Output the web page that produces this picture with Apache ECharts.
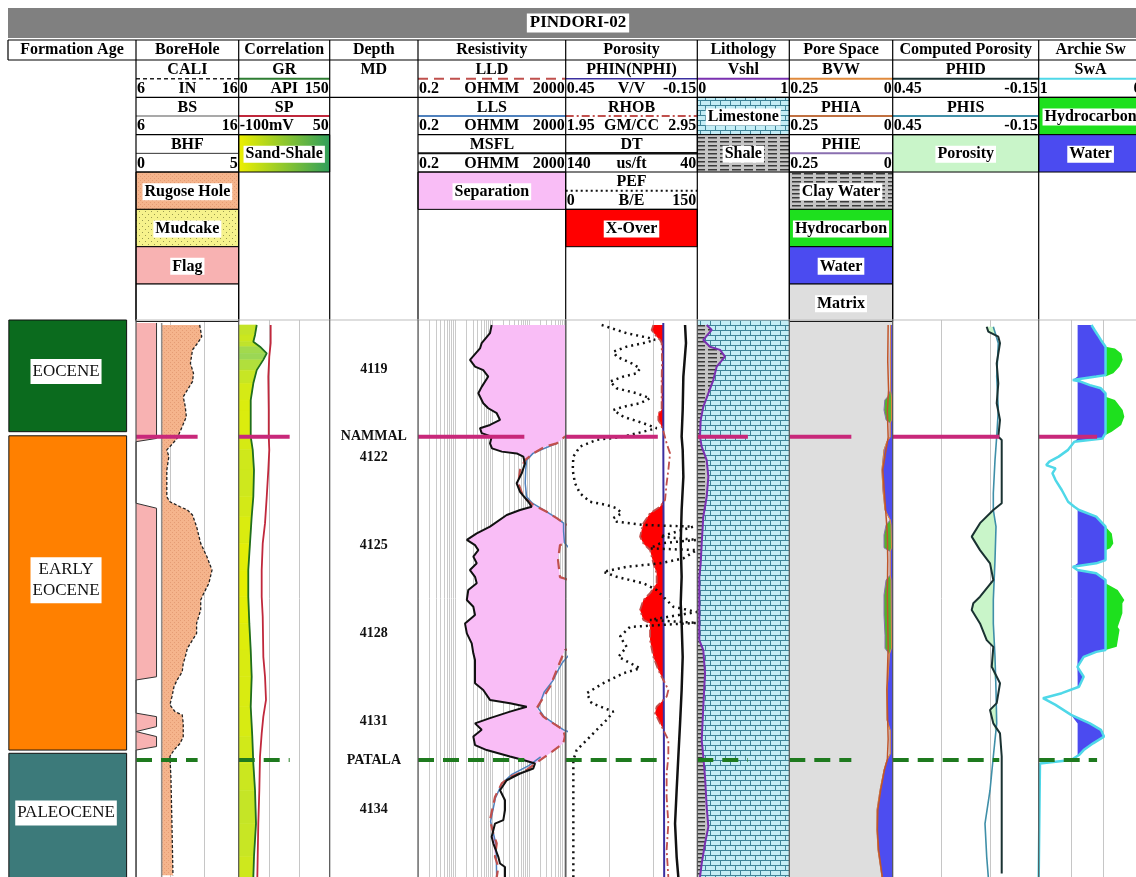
<!DOCTYPE html>
<html>
<head>
<meta charset="utf-8">
<title>PINDORI-02</title>
<script src="https://cdn.jsdelivr.net/npm/echarts@6.0.0/dist/echarts.min.js"></script>
<style>
  html, body { margin: 0; padding: 0; background: #fff; }
  #chart { width: 1136px; height: 877px; }
</style>
</head>
<body>
<div id="chart"></div>
<script>
// ---------- data ----------
const WELL = 'PINDORI-02'
const DEPTH_TOP = 4117.3
const DEPTH_BASE = 4136.3

const DEPTH_TICKS = [4119, 4122, 4125, 4128, 4131, 4134]
const MARKER_NAMES = ['NAMMAL', 'PATALA']
const MARKER_DEPTHS = [4121.28, 4132.31]

const AGE_NAMES = ['EOCENE', 'EARLY\nEOCENE', 'PALEOCENE']
const AGE_TOPS = [4117.3, 4121.25, 4132.08]
const AGE_BASES = [4121.11, 4131.97, 4136.5]

// resistivity log grid values (ohmm)
const RES_GRID = [0.2, 0.4, 0.6, 0.8, 1, 1.2, 1.4, 1.6, 1.8, 2, 4, 6, 8, 10, 12, 14, 16, 18, 20,
  40, 60, 80, 100, 120, 140, 160, 180, 200, 400, 600, 800, 1000, 1200, 1400, 1600, 1800, 2000]

// curves, [depth ft, value]
const CALI = [[4117.47, 12.2], [4117.87, 12.4], [4118.09, 12.0], [4118.32, 11.5], [4118.78, 11.3], [4119.12, 11.6],
  [4119.40, 11.5], [4119.63, 11.1], [4119.92, 10.6], [4120.26, 10.8], [4120.60, 10.9], [4120.94, 10.5], [4121.34, 10.0],
  [4121.62, 9.3], [4121.73, 9.0], [4121.96, 9.2], [4122.42, 9.0], [4123.33, 9.0], [4123.50, 9.3], [4123.67, 10.3],
  [4123.78, 11.0], [4123.95, 11.5], [4124.35, 11.9], [4124.92, 12.3], [4125.37, 12.9], [4125.83, 13.4], [4126.28, 13.1],
  [4126.62, 12.6], [4126.85, 12.3], [4127.19, 12.3], [4127.65, 11.9], [4127.99, 11.9], [4128.33, 11.3], [4128.50, 11.0],
  [4128.79, 10.8], [4129.01, 10.6], [4129.30, 10.5], [4129.58, 10.0], [4129.81, 9.7], [4130.15, 9.5], [4130.43, 9.3],
  [4130.66, 9.8], [4130.77, 10.5], [4131.06, 10.6], [4131.51, 10.6], [4131.74, 10.3], [4131.97, 9.7], [4132.19, 9.3],
  [4132.89, 9.4], [4134.48, 9.5], [4136.24, 9.6]]
const BS = [[4117.4, 8.5], [4136.3, 8.5]]
const BHF = [[4117.4, 1], [4121.34, 1], [4121.45, 0], [4123.55, 0], [4123.72, 1], [4129.47, 1], [4129.58, 0],
  [4130.71, 0], [4130.83, 1], [4131.17, 1], [4131.34, 0], [4131.51, 1], [4131.85, 1], [4131.97, 0], [4136.3, 0]]

const GR = [[4117.47, 29.7], [4117.81, 26.9], [4118.04, 24.1], [4118.21, 35.1], [4118.44, 46.2], [4118.66, 40.5],
  [4119.01, 29.7], [4119.46, 24.1], [4120.03, 19.8], [4120.37, 19.8], [4121.28, 19.8], [4121.73, 23.1], [4122.42, 25.2],
  [4123.33, 24.1], [4124.01, 21.4], [4124.92, 18.6], [4125.83, 15.8], [4126.74, 15.8], [4127.65, 17.5], [4128.56, 19.8],
  [4129.47, 21.4], [4130.49, 19.8], [4131.51, 22.4], [4132.43, 24.1], [4133.34, 26.9], [4134.48, 28.5], [4135.61, 25.2],
  [4136.31, 24.1]]
const SP = [[4117.47, -47.3], [4118.09, -47.3], [4118.55, -49.6], [4119.23, -51.2], [4120.37, -50.5], [4121.28, -50.5],
  [4121.73, -49.6], [4122.42, -51.2], [4123.33, -53.8], [4124.23, -56.6], [4124.92, -60.4], [4125.83, -62.1],
  [4126.74, -62.1], [4127.42, -60.4], [4128.79, -59.4], [4129.47, -56.6], [4130.26, -55.0], [4130.83, -59.4],
  [4131.40, -62.1], [4132.19, -64.9], [4133.34, -66.0], [4134.48, -67.7], [4136.31, -69.3]]

const MSFL = [[4117.47, 19.8], [4117.75, 17.8], [4118.09, 10.6], [4118.27, 9.55], [4118.66, 5.12], [4118.89, 7.0],
  [4119.01, 11.7], [4119.23, 16.0], [4119.58, 10.6], [4119.80, 8.6], [4120.14, 11.7], [4120.31, 16.0], [4120.48, 27.1],
  [4120.71, 33.3], [4120.88, 17.8], [4120.99, 9.55], [4121.16, 10.6], [4121.28, 19.8], [4121.51, 17.8], [4121.68, 20.2],
  [4121.79, 37.2], [4121.85, 94.2], [4121.96, 142], [4122.19, 158], [4122.53, 129], [4122.87, 94], [4123.16, 116],
  [4123.50, 194], [4123.67, 240], [4123.78, 116], [4123.95, 50.5], [4124.35, 17.8], [4124.58, 7.8], [4124.80, 4.2],
  [4124.98, 7.0], [4125.15, 8.6], [4125.37, 6.3], [4125.60, 7.8], [4125.83, 5.1], [4126.06, 7.0], [4126.28, 7.8],
  [4126.51, 4.6], [4126.85, 4.2], [4127.08, 6.3], [4127.36, 7.0], [4127.65, 3.75], [4127.99, 4.2], [4128.33, 5.7],
  [4128.67, 6.3], [4128.90, 7.0], [4129.69, 7.0], [4129.92, 11.7], [4130.26, 17.8], [4130.37, 62], [4130.49, 176],
  [4130.66, 62], [4130.88, 17.8], [4131.06, 7.0], [4131.28, 10.6], [4131.51, 6.3], [4131.80, 7.0], [4131.97, 14.5],
  [4132.19, 62], [4132.31, 142], [4132.43, 295], [4132.60, 265], [4132.77, 116], [4133.00, 50.5], [4133.34, 33.3],
  [4133.68, 45.4], [4134.02, 45.4], [4134.36, 40.8], [4134.48, 24.3], [4134.93, 19.8], [4135.15, 21.9], [4135.61, 29.9],
  [4135.84, 33.3], [4135.96, 45.4], [4136.31, 45.4]]
const LLD = [[4117.4, 3000], [4121.2, 3000], [4121.28, 1900], [4121.51, 1140], [4121.62, 550], [4121.85, 265],
  [4122.08, 158], [4122.42, 116], [4122.87, 104], [4123.33, 142], [4123.61, 265], [4123.84, 612], [4124.06, 1140],
  [4124.23, 1800], [4124.35, 3000], [4124.85, 3000], [4124.98, 1400], [4125.49, 1240], [4126.07, 1400], [4126.2, 3000],
  [4128.5, 3000], [4128.56, 1900], [4129.24, 1140], [4129.81, 752], [4130.54, 328], [4130.83, 494], [4131.06, 923],
  [4131.28, 1720], [4131.51, 1900], [4131.74, 1720], [4132.08, 752], [4132.36, 362], [4132.65, 176], [4132.89, 62],
  [4133.11, 37], [4133.57, 24.3], [4134.36, 17.8], [4134.81, 21.9], [4135.15, 27.1], [4135.61, 24.3], [4135.96, 29.9],
  [4136.31, 27.1]]
const LLS = [[4121.5, 1200], [4121.7, 480], [4121.85, 260], [4122.08, 175], [4122.42, 165], [4122.87, 160],
  [4123.33, 175], [4123.55, 250], [4123.84, 600], [4124.06, 1150], [4124.23, 1750], [4124.5, 1750], [4124.9, 1850],
  [4125.2, 3000], null, [4128.6, 3000], [4129.0, 1600], [4129.24, 1250], [4129.6, 900], [4130.0, 520], [4130.54, 360],
  [4130.83, 520], [4131.06, 950], [4131.28, 1750], [4131.4, 3000], null, [4132.2, 420], [4132.5, 200], [4132.8, 70],
  [4133.1, 38], [4133.6, 25], [4134.4, 18.5], [4135.2, 26], [4136.3, 27]]

const NPHI = [[4117.4, 0.005], [4121.3, 0.005], [4124.2, 0.004], [4127.0, 0.004], [4130.0, 0.003], [4132.3, 0.002],
  [4136.3, 0.001]]
const RHOB = [[4117.47, 2.616], [4117.64, 2.603], [4117.87, 2.641], [4117.98, 2.667], [4118.09, 2.679], [4118.66, 2.682],
  [4119.35, 2.679], [4120.37, 2.679], [4120.48, 2.654], [4120.71, 2.654], [4120.82, 2.667], [4121.05, 2.690],
  [4121.51, 2.717], [4121.85, 2.743], [4122.42, 2.730], [4122.87, 2.717], [4123.44, 2.705], [4123.67, 2.667],
  [4123.89, 2.591], [4124.23, 2.540], [4124.69, 2.515], [4124.92, 2.540], [4125.15, 2.591], [4125.60, 2.616],
  [4125.94, 2.641], [4126.28, 2.641], [4126.62, 2.591], [4126.85, 2.540], [4127.19, 2.515], [4127.53, 2.540],
  [4127.65, 2.591], [4128.22, 2.591], [4128.79, 2.616], [4129.24, 2.654], [4129.47, 2.679], [4129.69, 2.705],
  [4129.92, 2.730], [4130.15, 2.717], [4130.26, 2.692], [4130.49, 2.641], [4130.71, 2.629], [4130.94, 2.654],
  [4131.28, 2.692], [4131.63, 2.730], [4132.19, 2.730], [4132.77, 2.717], [4133.57, 2.717], [4134.48, 2.730],
  [4135.38, 2.717], [4136.31, 2.730]]
const DT = [[4117.47, 49.3], [4118.09, 48.6], [4119.23, 50.6], [4120.37, 51.1], [4121.28, 51.9], [4121.73, 51.1],
  [4122.65, 50.6], [4123.78, 51.9], [4124.92, 52.6], [4126.06, 51.9], [4126.96, 52.6], [4127.65, 51.9], [4128.79, 51.1],
  [4129.92, 51.9], [4131.06, 53.1], [4132.19, 54.4], [4133.34, 55.7], [4134.48, 56.9], [4135.61, 55.7], [4136.31, 54.4]]
const PEF = [[4117.47, 41.0], [4117.75, 69.5], [4117.92, 96.1], [4117.98, 101.8], [4118.09, 88.4], [4118.21, 69.5],
  [4118.38, 54.3], [4118.55, 58.1], [4118.78, 75.2], [4118.95, 84.7], [4119.12, 80.9], [4119.23, 65.7], [4119.40, 50.5],
  [4119.63, 58.1], [4119.80, 80.9], [4119.97, 96.1], [4120.14, 84.7], [4120.26, 65.7], [4120.37, 54.3], [4120.60, 65.7],
  [4120.82, 88.4], [4120.99, 103.7], [4121.11, 88.4], [4121.28, 65.7], [4121.39, 35.3], [4121.62, 16.3], [4121.96, 8.7],
  [4122.42, 8.0], [4122.87, 10.6], [4123.21, 16.3], [4123.50, 27.7], [4123.61, 46.7], [4123.72, 58.1], [4123.89, 63.8],
  [4124.06, 54.3], [4124.18, 58.1], [4124.29, 88.4], [4124.35, 145.4], [4124.69, 107.5], [4124.80, 149.3],
  [4124.92, 107.5], [4125.09, 96.1], [4125.15, 149.3], [4125.43, 134.0], [4125.60, 107.5], [4125.72, 69.5],
  [4125.89, 42.9], [4126.06, 58.1], [4126.28, 88.4], [4126.51, 103.7], [4126.74, 111.2], [4127.08, 122.6],
  [4127.26, 149.3], [4127.53, 96.1], [4127.63, 149.3], [4127.77, 73.3], [4128.10, 61.9], [4128.45, 69.5],
  [4128.79, 60.0], [4129.18, 84.7], [4129.35, 65.7], [4129.69, 42.9], [4130.03, 23.9], [4130.37, 29.6], [4130.66, 54.3],
  [4130.94, 46.7], [4131.28, 35.3], [4131.63, 23.9], [4131.97, 12.5], [4132.31, 8.7], [4136.31, 8.7]]

const VSHL = [[4117.47, 0.102], [4117.64, 0.157], [4117.98, 0.065], [4118.21, 0.138], [4118.32, 0.247], [4118.55, 0.301],
  [4118.89, 0.211], [4119.35, 0.174], [4119.80, 0.120], [4120.26, 0.065], [4120.71, 0.037], [4121.28, 0.029],
  [4121.62, 0.048], [4122.08, 0.102], [4122.65, 0.120], [4123.33, 0.102], [4124.01, 0.065], [4124.92, 0.048],
  [4125.60, 0.037], [4126.06, 0.022], [4128.22, 0.022], [4128.56, 0.065], [4129.35, 0.084], [4130.49, 0.065],
  [4131.63, 0.048], [4132.19, 0.065], [4132.89, 0.084], [4133.91, 0.102], [4134.59, 0.120], [4135.15, 0.084],
  [4135.84, 0.048], [4136.31, 0.029]]

const PHIE = [[4117.47, 0.005], [4118.66, 0.006], [4119.69, 0.005], [4119.92, 0.012], [4120.03, 0.019], [4120.37, 0.021],
  [4120.71, 0.016], [4120.82, 0.006], [4121.29, 0.006], [4121.45, 0.014], [4121.73, 0.021], [4122.42, 0.026],
  [4123.10, 0.0235], [4123.78, 0.0186], [4124.12, 0.006], [4124.29, 0.016], [4124.63, 0.021], [4125.07, 0.021],
  [4125.2, 0.006], [4126.0, 0.006], [4126.17, 0.016], [4126.68, 0.021], [4127.36, 0.021], [4128.05, 0.0186],
  [4128.50, 0.0186], [4128.7, 0.008], [4129.6, 0.012], [4129.92, 0.0138], [4130.94, 0.0138], [4131.3, 0.006],
  [4132.1, 0.006], [4132.31, 0.0138], [4132.65, 0.021], [4133.34, 0.0307], [4134.02, 0.038], [4134.70, 0.038],
  [4135.38, 0.0355], [4136.07, 0.0283], [4136.31, 0.0259]]
const BVW = [[4117.47, 0.005], [4119.69, 0.005], [4119.92, 0.003], [4120.71, 0.003], [4120.82, 0.006], [4121.29, 0.006],
  [4121.45, 0.014], [4121.73, 0.021], [4122.42, 0.026], [4123.10, 0.0235], [4123.78, 0.0186], [4124.12, 0.006],
  [4124.29, 0.004], [4125.07, 0.003], [4125.2, 0.006], [4126.0, 0.006], [4126.17, 0.004], [4128.50, 0.003],
  [4128.7, 0.008], [4129.6, 0.012], [4129.92, 0.0138], [4130.94, 0.0138], [4131.3, 0.006], [4132.1, 0.006],
  [4132.31, 0.0138], [4132.65, 0.021], [4133.34, 0.0307], [4134.02, 0.038], [4134.70, 0.038], [4135.38, 0.0355],
  [4136.07, 0.0283], [4136.31, 0.0259]]
const PHIA = [[4117.47, 0.011], [4118.7, 0.012], [4119.7, 0.010], [4120.4, 0.013], [4121.3, 0.011], [4122.4, 0.024],
  [4123.8, 0.017], [4124.6, 0.013], [4125.5, 0.012], [4126.7, 0.013], [4128.5, 0.011], [4129.9, 0.014], [4131.6, 0.011],
  [4132.3, 0.013], [4132.65, 0.020], [4133.34, 0.029], [4134.02, 0.036], [4134.70, 0.037], [4135.38, 0.034],
  [4136.3, 0.025]]

const PHID = [[4117.53, 0.0637], [4117.70, 0.057], [4117.87, 0.016], [4118.09, 0.009], [4118.78, 0.0226],
  [4119.46, 0.016], [4120.14, 0.0226], [4120.71, 0.009], [4121.28, 0.016], [4121.39, 0.002], [4123.55, 0.002],
  [4123.78, 0.0365], [4124.23, 0.0912], [4124.69, 0.1253], [4125.15, 0.0912], [4125.60, 0.05], [4126.17, 0.0365],
  [4126.74, 0.0912], [4126.96, 0.1187], [4127.19, 0.1253], [4127.65, 0.0912], [4128.22, 0.0637], [4128.45, 0.0365],
  [4129.13, 0.043], [4129.69, 0.009], [4130.37, 0.0226], [4130.60, 0.05], [4131.06, 0.0365], [4131.40, 0.009],
  [4132.19, 0.002], [4136.18, 0.002]]
const PHIS = [[4117.53, 0.0365], [4118.09, 0.016], [4119.23, 0.0226], [4120.37, 0.016], [4121.28, 0.0226],
  [4122.08, 0.0296], [4123.21, 0.0365], [4123.78, 0.0365], [4124.35, 0.0255], [4125.49, 0.0296], [4126.85, 0.0365],
  [4127.65, 0.0365], [4128.79, 0.0296], [4129.92, 0.0255], [4131.06, 0.0226], [4132.19, 0.0365], [4133.34, 0.05],
  [4134.48, 0.0707], [4135.61, 0.0637], [4136.31, 0.057]]

const SWA = [[4117.47, 0.458], [4117.64, 0.426], [4117.81, 0.393], [4117.98, 0.361], [4118.21, 0.313], [4119.18, 0.313],
  [4119.23, 0.409], [4119.35, 0.650], [4119.40, 0.570], [4119.52, 0.474], [4119.63, 0.361], [4119.80, 0.313],
  [4121.16, 0.313], [4121.34, 0.345], [4121.45, 0.634], [4121.51, 0.650], [4121.73, 0.698], [4121.96, 0.795],
  [4122.13, 0.891], [4122.25, 0.923], [4122.36, 0.827], [4122.53, 0.859], [4122.76, 0.827], [4123.10, 0.763],
  [4123.50, 0.698], [4123.67, 0.634], [4123.78, 0.586], [4124.01, 0.409], [4124.35, 0.313], [4125.49, 0.313],
  [4125.60, 0.409], [4125.72, 0.650], [4125.83, 0.602], [4125.94, 0.409], [4126.17, 0.313], [4128.56, 0.313],
  [4128.62, 0.409], [4128.79, 0.538], [4129.13, 0.602], [4129.47, 0.538], [4129.81, 0.586], [4130.03, 0.763],
  [4130.20, 0.956], [4130.43, 0.827], [4130.77, 0.667], [4131.06, 0.474], [4131.28, 0.361], [4131.51, 0.329],
  [4131.74, 0.441], [4131.97, 0.538], [4132.14, 0.586], [4132.31, 0.667], [4132.43, 0.987], [4136.3, 1.0]]
const SW_HC = [[4117.3, 0.313], [4118.21, 0.313], [4118.27, 0.216], [4118.44, 0.152], [4118.66, 0.137], [4118.89, 0.169],
  [4119.12, 0.233], [4119.23, 0.313], [4119.92, 0.313], [4120.03, 0.216], [4120.37, 0.137], [4120.60, 0.120],
  [4120.88, 0.152], [4121.11, 0.249], [4121.22, 0.313], [4124.35, 0.313], [4124.58, 0.249], [4124.92, 0.233],
  [4125.09, 0.265], [4125.15, 0.313], [4126.28, 0.313], [4126.51, 0.188], [4126.85, 0.120], [4126.96, 0.140],
  [4127.30, 0.140], [4127.77, 0.188], [4127.87, 0.169], [4128.45, 0.198], [4128.56, 0.313], [4136.3, 0.313]]
// water and hydrocarbon reference lines in the Sw track
const SW_WATER_REF = 0.6
const SW_HC_REF = 0.313

// ---------- layout ----------
const FONT = '"Liberation Serif", "Times New Roman", serif'
const TRACK_TOP = 320
const TRACK_H = 557
const TRACKS = [
  { name: 'Formation Age', x0: 8, x1: 136 },
  { name: 'BoreHole', x0: 136, x1: 238.7 },
  { name: 'Correlation', x0: 238.7, x1: 329.7 },
  { name: 'Depth', x0: 329.7, x1: 418 },
  { name: 'Resistivity', x0: 418, x1: 565.7 },
  { name: 'Porosity', x0: 565.7, x1: 697.3 },
  { name: 'Lithology', x0: 697.3, x1: 789.3 },
  { name: 'Pore Space', x0: 789.3, x1: 892.7 },
  { name: 'Computed Porosity', x0: 892.7, x1: 1038.7 },
  { name: 'Archie Sw', x0: 1038.7, x1: 1142.5 }
]
const AGE_COLORS = ['#0b6b1e', '#ff8000', '#3c7a7a']
const MARKER_STYLES = [
  { stroke: '#c8287a', lineWidth: 4 },
  { stroke: '#1e7a1e', lineWidth: 4, lineDash: [16, 9] }
]
// how far each formation top line reaches into a track
const MARKER_LEN = { 1: 0.6, 2: 0.56, 4: 0.72, 5: 0.7, 6: 0.55, 7: 0.6, 8: 0.73, 9: 0.6 }

function makePattern (w, h, draw) {
  const c = document.createElement('canvas')
  c.width = w
  c.height = h
  draw(c.getContext('2d'))
  return { image: c, repeat: 'repeat' }
}
const PAT_LIME = makePattern(10, 10, g => {
  g.fillStyle = '#c4edf5'
  g.fillRect(0, 0, 10, 10)
  g.strokeStyle = '#3f8599'
  g.lineWidth = 1
  g.beginPath()
  g.moveTo(0, 0.5); g.lineTo(10, 0.5)
  g.moveTo(0, 5.5); g.lineTo(10, 5.5)
  g.moveTo(0.5, 0); g.lineTo(0.5, 5)
  g.moveTo(5.5, 5); g.lineTo(5.5, 10)
  g.stroke()
})
const PAT_SHALE = makePattern(12, 4, g => {
  g.fillStyle = '#c4c4c4'
  g.fillRect(0, 0, 12, 4)
  g.fillStyle = '#3a3a3a'
  g.fillRect(0, 1, 9, 1.5)
})
const PAT_RUGOSE = makePattern(4, 4, g => {
  g.fillStyle = '#f5b48c'
  g.fillRect(0, 0, 4, 4)
  g.fillStyle = '#e59c74'
  g.fillRect(0, 0, 1, 1)
  g.fillRect(2, 2, 1, 1)
})
const PAT_MUD = makePattern(6, 6, g => {
  g.fillStyle = '#f6f28c'
  g.fillRect(0, 0, 6, 6)
  g.fillStyle = '#9a9a50'
  g.fillRect(1, 1, 1, 1)
  g.fillRect(4, 4, 1, 1)
})
const SAND_SHALE = {
  type: 'linear', x: 0, y: 0, x2: 1, y2: 0,
  colorStops: [{ offset: 0, color: '#eef000' }, { offset: 1, color: '#2f9e5c' }]
}

const chart = echarts.init(document.getElementById('chart'), null, { renderer: 'canvas' })

// ---------- axes ----------
const grids = TRACKS.map(t => ({ left: t.x0, top: TRACK_TOP, width: t.x1 - t.x0, height: TRACK_H, show: false }))
const yAxes = TRACKS.map((t, i) => ({
  gridIndex: i, type: 'value', inverse: true, min: DEPTH_TOP, max: DEPTH_BASE, show: false
}))
const xAxes = []
function addX (grid, opt) {
  xAxes.push(Object.assign({ gridIndex: grid, type: 'value', show: false }, opt))
  return xAxes.length - 1
}
// frame axis of each track: 3 equal divisions, used for gridlines and layout drawing
const FRAME = TRACKS.map((t, i) => {
  const lines = [1, 2, 5, 8, 9].indexOf(i) >= 0
  return addX(i, {
    min: 0, max: 3, interval: 1, show: lines,
    axisLine: { show: false }, axisTick: { show: false }, axisLabel: { show: false },
    splitLine: { show: lines, lineStyle: { color: '#c6c6c6', width: 1 } }
  })
})
const X_CALI = addX(1, { min: 6, max: 16 })
const X_BHF = addX(1, { min: 0, max: 5 })
const X_GR = addX(2, { min: 0, max: 150 })
const X_SP = addX(2, { min: -100, max: 50 })
const X_RES = addX(4, { type: 'log', logBase: 10, min: 0.2, max: 2000 })
const X_NPHI = addX(5, { min: -0.15, max: 0.45, inverse: true })
const X_RHOB = addX(5, { min: 1.95, max: 2.95 })
const X_DT = addX(5, { min: 40, max: 140, inverse: true })
const X_PEF = addX(5, { min: 0, max: 150 })
const X_VSH = addX(6, { min: 0, max: 1 })
const X_PORE = addX(7, { min: 0, max: 0.25, inverse: true })
const X_PHI = addX(8, { min: -0.15, max: 0.45, inverse: true })
const X_SW = addX(9, { min: 0, max: 1, inverse: true })

// ---------- series helpers ----------
function curve (xi, arr, ls, z) {
  return {
    type: 'line', xAxisIndex: xi, yAxisIndex: xAxes[xi].gridIndex, silent: true, animation: false,
    symbol: 'none', clip: true, z: z || 6, lineStyle: ls,
    data: arr.map(p => p ? [p[1], p[0]] : ['-', '-'])
  }
}

/**
 * pixel points of a curve spec, {data} or {value}, optional own axis
 */
function toPts (api, xi, spec, cs) {
  const ax = spec.axis == null ? xi : spec.axis
  const x0 = xAxes[xi].min
  const yOf = d => api.coord([x0, d])[1]
  const xOf = v => ax === xi ? api.coord([v, DEPTH_TOP])[0] : chart.convertToPixel({ xAxisIndex: ax }, v)
  const clampX = x => Math.max(cs.x, Math.min(cs.x + cs.width, x))
  if (spec.data) return spec.data.filter(Boolean).map(p => [clampX(xOf(p[1])), yOf(p[0])])
  const xc = clampX(xOf(spec.value))
  return [[xc, cs.y], [xc, cs.y + cs.height]]
}
function xAt (pts, y) {
  if (y <= pts[0][1]) return pts[0][0]
  for (let i = 1; i < pts.length; i++) {
    if (y <= pts[i][1]) {
      const a = pts[i - 1]
      const b = pts[i]
      const t = (y - a[1]) / ((b[1] - a[1]) || 1)
      return a[0] + (b[0] - a[0]) * t
    }
  }
  return pts[pts.length - 1][0]
}
// fill where curve A lies left of curve B
function fill (xi, A, B, style, z) {
  return {
    type: 'custom', xAxisIndex: xi, yAxisIndex: xAxes[xi].gridIndex, silent: true, animation: false, z: z || 3,
    data: [[xAxes[xi].min, DEPTH_TOP]],
    renderItem: (params, api) => {
      const cs = params.coordSys
      const a = toPts(api, xi, A, cs)
      const b = toPts(api, xi, B, cs)
      const lo = Math.max(a[0][1], b[0][1])
      const hi = Math.min(a[a.length - 1][1], b[b.length - 1][1])
      const ys = Array.from(new Set(a.concat(b).map(p => p[1]).filter(y => y >= lo && y <= hi))).sort((m, n) => m - n)
      const left = []
      const right = []
      ys.forEach(y => {
        const xa = xAt(a, y)
        const xb = xAt(b, y)
        left.push([Math.min(xa, xb), y])
        right.push([xb, y])
      })
      return { type: 'polygon', shape: { points: left.concat(right.reverse()) }, style: style }
    }
  }
}
function background (g, fillStyle) {
  return {
    type: 'custom', xAxisIndex: FRAME[g], yAxisIndex: g, silent: true, animation: false, z: 1,
    data: [[0, DEPTH_TOP]],
    renderItem: (params) => {
      const cs = params.coordSys
      return { type: 'rect', shape: { x: cs.x, y: cs.y, width: cs.width, height: cs.height }, style: { fill: fillStyle } }
    }
  }
}
function markers (g) {
  return {
    type: 'custom', xAxisIndex: FRAME[g], yAxisIndex: g, silent: true, animation: false, z: 9,
    data: MARKER_DEPTHS.map(d => [0, d]),
    renderItem: (params, api) => {
      const cs = params.coordSys
      const y = api.coord([0, api.value(1)])[1]
      return {
        type: 'line',
        shape: { x1: cs.x, y1: y, x2: cs.x + cs.width * MARKER_LEN[g], y2: y },
        style: MARKER_STYLES[params.dataIndex]
      }
    }
  }
}
function grColor (v) {
  const t = Math.max(0, Math.min(1, (v - 15) / 30))
  const a = [232, 240, 0]
  const b = [150, 214, 90]
  return 'rgb(' + a.map((c, k) => Math.round(c + (b[k] - c) * t)).join(',') + ')'
}

// ---------- series ----------
const series = []

// formation age blocks
series.push({
  type: 'custom', xAxisIndex: FRAME[0], yAxisIndex: 0, silent: true, animation: false, z: 3,
  data: AGE_TOPS.map(d => [1.5, d]),
  renderItem: (params, api) => {
    const i = params.dataIndex
    const a = api.coord([0.02, AGE_TOPS[i]])
    const b = api.coord([2.78, AGE_BASES[i]])
    const mid = api.coord([1.36, AGE_TOPS[i] + (AGE_BASES[i] - AGE_TOPS[i]) * 0.46])
    return {
      type: 'group',
      children: [
        { type: 'rect', shape: { x: a[0], y: a[1], width: b[0] - a[0], height: b[1] - a[1] }, style: { fill: AGE_COLORS[i], stroke: '#111', lineWidth: 1 } },
        { type: 'text', x: mid[0], y: mid[1], style: { text: AGE_NAMES[i], font: '17px ' + FONT, fill: '#111', align: 'center', verticalAlign: 'middle', backgroundColor: '#fff', padding: [3, 2, 1, 2], lineHeight: 21 } }
      ]
    }
  }
})

// borehole
series.push(fill(X_BHF, { value: 0 }, { data: BHF }, { fill: '#f8b2b2' }))
series.push(fill(X_CALI, { data: BS }, { data: CALI }, { fill: PAT_RUGOSE }))
series.push(curve(X_CALI, BS, { color: '#8d8d8d', width: 1.5 }))
series.push(curve(X_CALI, CALI, { color: '#222', width: 1.3, type: [3, 2] }))
series.push(curve(X_BHF, BHF, { color: '#333', width: 1 }))

// correlation: sand-shale shading by GR
series.push({
  type: 'custom', xAxisIndex: X_GR, yAxisIndex: 2, silent: true, animation: false, z: 3,
  data: GR.map(p => [p[1], p[0]]),
  renderItem: (params, api) => {
    const i = params.dataIndex
    if (i >= GR.length - 1) return null
    const p0 = api.coord([GR[i][1], GR[i][0]])
    const p1 = api.coord([GR[i + 1][1], GR[i + 1][0]])
    const xl = params.coordSys.x
    const c = grColor((GR[i][1] + GR[i + 1][1]) / 2)
    return {
      type: 'polygon',
      shape: { points: [[xl, p0[1]], [p0[0], p0[1]], [p1[0], p1[1]], [xl, p1[1]]] },
      style: { fill: c, stroke: c, lineWidth: 0.6 }
    }
  }
})
series.push(curve(X_SP, SP, { color: '#c0283c', width: 1.8 }))
series.push(curve(X_GR, GR, { color: '#1f6e1f', width: 1.8 }))

// depth labels and top names
series.push({
  type: 'custom', xAxisIndex: FRAME[3], yAxisIndex: 3, silent: true, animation: false, z: 5,
  data: DEPTH_TICKS.map(d => [1.5, d]),
  renderItem: (params, api) => {
    const p = api.coord([api.value(0), api.value(1)])
    return { type: 'text', x: p[0], y: p[1], style: { text: String(api.value(1)), font: 'bold 14px ' + FONT, fill: '#111', align: 'center', verticalAlign: 'middle' } }
  }
})
series.push({
  type: 'custom', xAxisIndex: FRAME[3], yAxisIndex: 3, silent: true, animation: false, z: 5,
  data: MARKER_DEPTHS.map(d => [1.5, d]),
  renderItem: (params, api) => {
    const p = api.coord([api.value(0), api.value(1)])
    return { type: 'text', x: p[0], y: p[1], style: { text: MARKER_NAMES[params.dataIndex], font: 'bold 14px ' + FONT, fill: '#111', align: 'center', verticalAlign: 'middle' } }
  }
})

// resistivity
series.push({
  type: 'custom', xAxisIndex: X_RES, yAxisIndex: 4, silent: true, animation: false, z: 1,
  data: RES_GRID.map(v => [v, DEPTH_TOP]),
  renderItem: (params, api) => {
    const cs = params.coordSys
    const x = Math.round(api.coord([api.value(0), DEPTH_TOP])[0]) + 0.5
    return { type: 'line', shape: { x1: x, y1: cs.y, x2: x, y2: cs.y + cs.height }, style: { stroke: '#cacaca', lineWidth: 1 } }
  }
})
series.push(fill(X_RES, { data: MSFL }, { data: LLD }, { fill: '#f9bdf6' }))
series.push(curve(X_RES, LLS, { color: '#4f81bd', width: 1.5 }))
series.push(curve(X_RES, LLD, { color: '#c0504d', width: 2.2, type: [10, 6] }))
series.push(curve(X_RES, MSFL, { color: '#111', width: 2 }))

// porosity
series.push(fill(X_RHOB, { data: RHOB }, { data: NPHI, axis: X_NPHI }, { fill: '#ff0000' }))
series.push(curve(X_NPHI, NPHI, { color: '#3b2fa0', width: 2 }))
series.push(curve(X_RHOB, RHOB, { color: '#c0504d', width: 1.8, type: [8, 3, 2, 3] }))
series.push(curve(X_DT, DT, { color: '#111', width: 2.5 }))
series.push(curve(X_PEF, PEF, { color: '#111', width: 2.5, type: [2, 4] }, 7))

// lithology
series.push(background(6, PAT_LIME))
series.push(fill(X_VSH, { value: 0 }, { data: VSHL }, { fill: PAT_SHALE }))
series.push(curve(X_VSH, VSHL, { color: '#7a30b0', width: 2 }))

// pore space
series.push(background(7, '#dedede'))
series.push(fill(X_PORE, { data: PHIE }, { data: BVW }, { fill: '#4fb52c' }))
series.push(fill(X_PORE, { data: BVW }, { value: 0 }, { fill: '#4d4df0' }))
series.push(curve(X_PORE, PHIE, { color: '#8a6fb0', width: 1 }))
series.push(curve(X_PORE, BVW, { color: '#e08a3c', width: 1 }))
series.push(curve(X_PORE, PHIA, { color: '#c0552a', width: 1.5 }))

// computed porosity
series.push(fill(X_PHI, { data: PHID }, { data: PHIS }, { fill: '#c9f5c9' }))
series.push(curve(X_PHI, PHIS, { color: '#3f8fa8', width: 1.6 }))
series.push(curve(X_PHI, PHID, { color: '#1a3232', width: 2 }))

// archie sw
series.push(fill(X_SW, { value: SW_WATER_REF }, { data: SWA }, { fill: '#4b4bf0' }))
series.push(fill(X_SW, { value: SW_HC_REF }, { data: SW_HC }, { fill: '#1ee01e' }))
series.push(curve(X_SW, SWA, { color: '#4fd8e8', width: 2.5 }))

Object.keys(MARKER_LEN).forEach(g => series.push(markers(Number(g))))

// ---------- header table ----------
const RH = 18.67
const HY = 60
const graphics = []
function hText (x, y, text, align, extra) {
  graphics.push({
    type: 'text', z: 30, silent: true, x: x, y: y,
    style: Object.assign({ text: text, font: 'bold 16px ' + FONT, fill: '#000', align: align || 'center', verticalAlign: 'middle' }, extra || {})
  })
}
function hLine (x1, y1, x2, y2, style, z) {
  graphics.push({ type: 'line', z: z || 25, silent: true, shape: { x1, y1, x2, y2 }, style: Object.assign({ stroke: '#000', lineWidth: 1 }, style) })
}
function hRect (x, y, w, h, style) {
  graphics.push({ type: 'rect', z: 20, silent: true, shape: { x: x, y: y, width: w, height: h }, style: style })
}

const HEAD = [
  { col: 1, items: [
    { name: 'CALI', lo: '6', unit: 'IN', hi: '16', line: { stroke: '#222', lineWidth: 1.5, lineDash: [4, 3] } },
    { name: 'BS', lo: '6', unit: '', hi: '16', line: { stroke: '#8d8d8d', lineWidth: 1.5 } },
    { name: 'BHF', lo: '0', unit: '', hi: '5', line: { stroke: '#333', lineWidth: 1 } },
    { legend: 'Rugose Hole', fill: PAT_RUGOSE },
    { legend: 'Mudcake', fill: PAT_MUD },
    { legend: 'Flag', fill: '#f8b2b2' },
    { legend: '', fill: '#fff' }
  ] },
  { col: 2, items: [
    { name: 'GR', lo: '0', unit: 'API', hi: '150', line: { stroke: '#2e7d32', lineWidth: 2 } },
    { name: 'SP', lo: '-100mV', unit: '', hi: '50', line: { stroke: '#c0283c', lineWidth: 2 } },
    { legend: 'Sand-Shale', fill: SAND_SHALE }
  ] },
  { col: 3, items: [
    { name: 'MD', lo: '', unit: '', hi: '', line: null }
  ] },
  { col: 4, items: [
    { name: 'LLD', lo: '0.2', unit: 'OHMM', hi: '2000', line: { stroke: '#c0504d', lineWidth: 2, lineDash: [10, 6] } },
    { name: 'LLS', lo: '0.2', unit: 'OHMM', hi: '2000', line: { stroke: '#4f81bd', lineWidth: 2 } },
    { name: 'MSFL', lo: '0.2', unit: 'OHMM', hi: '2000', line: { stroke: '#111', lineWidth: 2 } },
    { legend: 'Separation', fill: '#f9bdf6' }
  ] },
  { col: 5, items: [
    { name: 'PHIN(NPHI)', lo: '0.45', unit: 'V/V', hi: '-0.15', line: { stroke: '#3b2fa0', lineWidth: 1.5 } },
    { name: 'RHOB', lo: '1.95', unit: 'GM/CC', hi: '2.95', line: { stroke: '#c0504d', lineWidth: 2, lineDash: [8, 3, 2, 3] } },
    { name: 'DT', lo: '140', unit: 'us/ft', hi: '40', line: { stroke: '#111', lineWidth: 2.5 } },
    { name: 'PEF', lo: '0', unit: 'B/E', hi: '150', line: { stroke: '#111', lineWidth: 2, lineDash: [2, 3] } },
    { legend: 'X-Over', fill: '#ff0000' }
  ] },
  { col: 6, items: [
    { name: 'Vshl', lo: '0', unit: '', hi: '1', line: { stroke: '#7a30b0', lineWidth: 2 } },
    { legend: 'Limestone', fill: PAT_LIME },
    { legend: 'Shale', fill: PAT_SHALE }
  ] },
  { col: 7, items: [
    { name: 'BVW', lo: '0.25', unit: '', hi: '0', line: { stroke: '#e08a3c', lineWidth: 2 } },
    { name: 'PHIA', lo: '0.25', unit: '', hi: '0', line: { stroke: '#c07040', lineWidth: 2 } },
    { name: 'PHIE', lo: '0.25', unit: '', hi: '0', line: { stroke: '#8a6fb0', lineWidth: 2 } },
    { legend: 'Clay Water', fill: PAT_SHALE },
    { legend: 'Hydrocarbon', fill: '#1ee01e' },
    { legend: 'Water', fill: '#4b4bf0' },
    { legend: 'Matrix', fill: '#dedede' }
  ] },
  { col: 8, items: [
    { name: 'PHID', lo: '0.45', unit: '', hi: '-0.15', line: { stroke: '#1a3232', lineWidth: 2 } },
    { name: 'PHIS', lo: '0.45', unit: '', hi: '-0.15', line: { stroke: '#3f8fa8', lineWidth: 2 } },
    { legend: 'Porosity', fill: '#c9f5c9' }
  ] },
  { col: 9, items: [
    { name: 'SwA', lo: '1', unit: '', hi: '0', line: { stroke: '#4fd8e8', lineWidth: 2 } },
    { legend: 'Hydrocarbon', fill: '#1ee01e' },
    { legend: 'Water', fill: '#4b4bf0' }
  ] }
]

// title bar
hRect(8, 8, 1128, 30, { fill: '#808080' })
hText(578, 23, WELL, 'center', { font: 'bold 17px ' + FONT, backgroundColor: '#fff', padding: [2, 3, 0, 3] })

HEAD.forEach(h => {
  const t = TRACKS[h.col]
  const mid = (t.x0 + t.x1) / 2
  let row = 0
  h.items.forEach(it => {
    const y0 = HY + row * RH
    const y1 = y0 + RH
    const y2 = y1 + RH
    if (it.legend !== undefined) {
      hRect(t.x0, y0, t.x1 - t.x0, 2 * RH, { fill: it.fill, stroke: '#000', lineWidth: 1 })
      if (it.legend) hText(mid, y0 + RH + 1, it.legend, 'center', { backgroundColor: '#fff', padding: [1, 2, 0, 2] })
    } else {
      hText(mid, y0 + RH / 2 + 1, it.name)
      if (it.line) hLine(t.x0, y1, t.x1, y1, it.line)
      hText(t.x0 + 1, y1 + RH / 2 + 1, it.lo, 'left')
      hText(mid, y1 + RH / 2 + 1, it.unit)
      hText(t.x1 - 1, y1 + RH / 2 + 1, it.hi, 'right')
      hLine(t.x0, y2, t.x1, y2, { lineWidth: 1.2 })
    }
    row += 2
  })
})

// column titles and borders
TRACKS.forEach((t, i) => {
  hText((t.x0 + t.x1) / 2, 50, t.name)
  if (i > 0) {
    hLine(t.x0, 40, t.x0, TRACK_TOP, { lineWidth: 1.2 })
    hLine(t.x0, TRACK_TOP, t.x0, 877, { stroke: '#555', lineWidth: 1.2 }, 40)
  }
})
hLine(8, 40, 8, 60, { lineWidth: 1.2 })
hLine(8, 40, 1136, 40, { lineWidth: 1.2 })
hLine(8, 60, 1136, 60, { lineWidth: 1.2 })
hLine(136, TRACK_TOP, 1136, TRACK_TOP, { stroke: '#bdbdbd', lineWidth: 1 })

chart.setOption({
  animation: false,
  backgroundColor: '#fff',
  grid: grids,
  xAxis: xAxes,
  yAxis: yAxes,
  series: series,
  graphic: { elements: graphics }
})
</script>
</body>
</html>
